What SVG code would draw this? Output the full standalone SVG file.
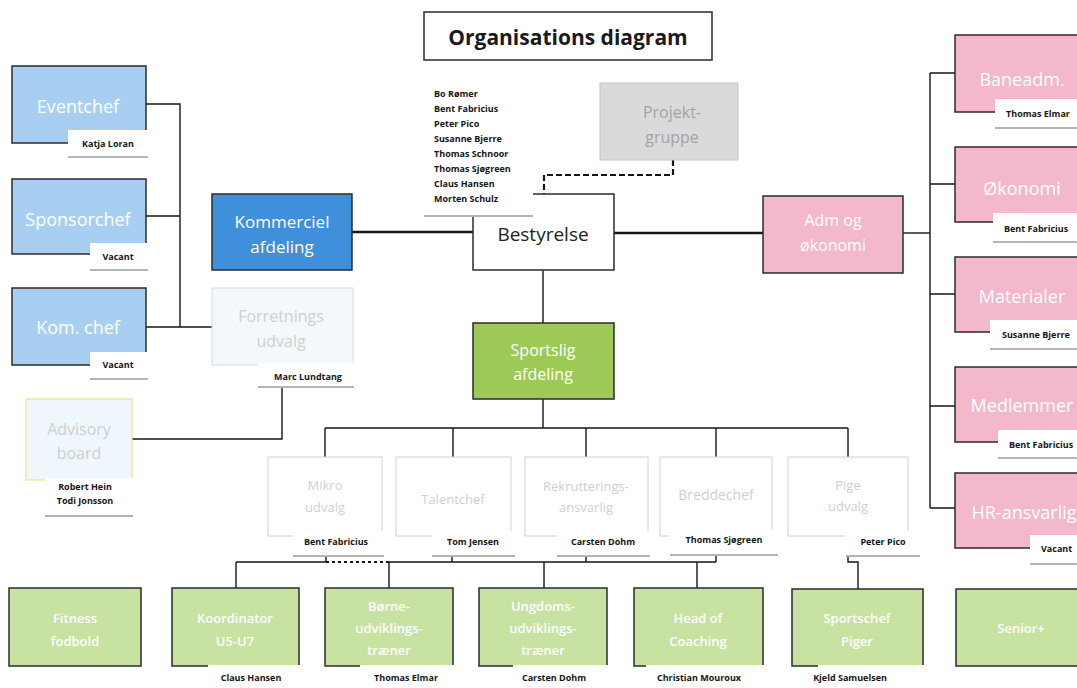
<svg xmlns="http://www.w3.org/2000/svg" width="1077" height="688" viewBox="0 0 1077 688">
<style>
.bx{stroke:#2b2b2b;stroke-width:1.5}
.blue{fill:#a8cff2}
.kom{fill:#3f8fdb}
.pink{fill:#f3b8cc}
.green{fill:#9dca57}
.lgreen{fill:#c8e2a2}
.ghost{fill:#ffffff;stroke:#d2d2d2;stroke-width:1}
.wt{font-family:"Open Sans","Liberation Sans",sans-serif;fill:#ffffff;text-anchor:middle}
.gt{font-family:"Open Sans","Liberation Sans",sans-serif;fill:#cfcfcf;text-anchor:middle}
.lb{fill:#ffffff}
.sh{stroke:#b4b4b4;stroke-width:2}
.lt{font-family:"Open Sans","Liberation Sans",sans-serif;font-size:9px;font-weight:700;fill:#151515;text-anchor:middle}
.ls{font-family:"Open Sans","Liberation Sans",sans-serif;font-size:9px;font-weight:700;fill:#151515}
.ln{stroke:#161616;stroke-width:1.4;fill:none}
.thick{stroke:#161616;stroke-width:2.4;fill:none}
.dash{stroke:#161616;stroke-width:2.2;fill:none;stroke-dasharray:6 3}
.dot{stroke:#161616;stroke-width:1.8;fill:none;stroke-dasharray:3 3}
</style>
<rect width="1077" height="688" fill="#ffffff"/>

<g id="connectors">
  <path class="ln" d="M146 104H180V327M146 216H180M146 327H212"/>
  <path class="ln" d="M282 387V439H132"/>
  <path class="thick" d="M352 232H473M614 233H763"/>
  <path class="ln" d="M903 233H930"/>
  <path class="ln" d="M930 73V508M930 73H955M930 184H955M930 294H955M930 406H955M930 508H955"/>
  <path class="dash" d="M673 160V175H544V194"/>
  <path class="ln" d="M543 270V323M543 399V428M325 428H848M325 428V457M453 428V457M586 428V457M716 428V457M848 428V457"/>
  <path class="ln" d="M326 556V562M452 556V562M586 556V562M716 556V562M236 562H326M389 562H716M236 562V588M389 562V588M544 562V588M697 562V588"/>
  <path class="dot" d="M326 562H389"/>
  <path class="ln" d="M848 556V562H858V589"/>
</g>

<g id="title">
  <rect x="424" y="12" width="288" height="48" fill="#fff" stroke="#2b2b2b" stroke-width="1.5"/>
  <text x="568" y="45" font-family="'Open Sans','Liberation Sans',sans-serif" font-size="21" font-weight="700" fill="#1a1a1a" text-anchor="middle">Organisations diagram</text>
</g>

<g id="eventchef">
  <rect class="bx blue" x="12" y="66" width="134" height="77"/>
  <text class="wt" x="78" y="113" font-size="18">Eventchef</text>
  <rect class="lb" x="68" y="130" width="80" height="26"/>
  <line class="sh" x1="68" y1="157" x2="148" y2="157"/>
  <text class="lt" x="108" y="147">Katja Loran</text>
</g>
<g id="sponsorchef">
  <rect class="bx blue" x="12" y="179" width="134" height="75"/>
  <text class="wt" x="78" y="226" font-size="18">Sponsorchef</text>
  <rect class="lb" x="90" y="243" width="58" height="26"/>
  <line class="sh" x1="90" y1="270" x2="148" y2="270"/>
  <text class="lt" x="118" y="260">Vacant</text>
</g>
<g id="komchef">
  <rect class="bx blue" x="12" y="288" width="134" height="77"/>
  <text class="wt" x="78" y="334" font-size="18">Kom. chef</text>
  <rect class="lb" x="90" y="352" width="58" height="26"/>
  <line class="sh" x1="90" y1="379" x2="148" y2="379"/>
  <text class="lt" x="118" y="368">Vacant</text>
</g>

<g id="kommerciel">
  <rect class="bx kom" x="212" y="194" width="140" height="76"/>
  <text class="wt" x="282" y="228" font-size="17">Kommerciel</text>
  <text class="wt" x="282" y="253" font-size="17">afdeling</text>
</g>
<g id="forretnings">
  <rect x="212" y="288" width="141" height="77" fill="#f3f8fb" stroke="#d8dde0" stroke-width="1"/>
  <text class="gt" x="281" y="322" font-size="16">Forretnings</text>
  <text class="gt" x="281" y="347" font-size="16">udvalg</text>
  <rect class="lb" x="258" y="363" width="96" height="23"/>
  <line class="sh" x1="258" y1="387" x2="354" y2="387"/>
  <text class="lt" x="308" y="380">Marc Lundtang</text>
</g>
<g id="advisory">
  <rect x="26" y="399" width="106" height="81" fill="#eef7fc" stroke="#ece38c" stroke-width="1.2"/>
  <text class="gt" x="79" y="435" font-size="16">Advisory</text>
  <text class="gt" x="79" y="459" font-size="16">board</text>
  <rect class="lb" x="45" y="478" width="88" height="37"/>
  <line class="sh" x1="45" y1="516" x2="133" y2="516"/>
  <text class="lt" x="85" y="490">Robert Hein</text>
  <text class="lt" x="85" y="504">Todi Jonsson</text>
</g>

<g id="bestyrelse">
  <rect class="bx" x="473" y="194" width="141" height="76" fill="#ffffff"/>
  <text x="543" y="241" font-family="'Open Sans','Liberation Sans',sans-serif" font-size="19" fill="#222" text-anchor="middle">Bestyrelse</text>
</g>
<g id="board-members">
  <rect x="423" y="80" width="110" height="135" fill="#ffffff"/>
  <line class="sh" x1="424" y1="216" x2="533" y2="216"/>
  <text class="ls" x="434" y="97">Bo Rømer</text>
  <text class="ls" x="434" y="112">Bent Fabricius</text>
  <text class="ls" x="434" y="127">Peter Pico</text>
  <text class="ls" x="434" y="142">Susanne Bjerre</text>
  <text class="ls" x="434" y="157">Thomas Schnoor</text>
  <text class="ls" x="434" y="172">Thomas Sjøgreen</text>
  <text class="ls" x="434" y="187">Claus Hansen</text>
  <text class="ls" x="434" y="202">Morten Schulz</text>
</g>
<g id="projektgruppe">
  <rect x="600" y="83" width="138" height="77" fill="#dadada" stroke="#c4c4c4" stroke-width="1"/>
  <text x="672" y="118" font-family="'Open Sans','Liberation Sans',sans-serif" font-size="16" fill="#a3a3a3" text-anchor="middle">Projekt-</text>
  <text x="672" y="143" font-family="'Open Sans','Liberation Sans',sans-serif" font-size="16" fill="#a3a3a3" text-anchor="middle">gruppe</text>
</g>

<g id="admokonomi">
  <rect class="bx pink" x="763" y="196" width="140" height="77"/>
  <text class="wt" x="833" y="226" font-size="16">Adm og</text>
  <text class="wt" x="833" y="251" font-size="16">økonomi</text>
</g>

<g id="baneadm">
  <rect class="bx pink" x="955" y="35" width="135" height="77"/>
  <text class="wt" x="1022" y="86" font-size="18">Baneadm.</text>
  <rect class="lb" x="995" y="99" width="90" height="28"/>
  <line class="sh" x1="995" y1="128" x2="1077" y2="128"/>
  <text class="ls" x="1006" y="117">Thomas Elmar</text>
</g>
<g id="okonomi">
  <rect class="bx pink" x="955" y="147" width="135" height="75"/>
  <text class="wt" x="1022" y="195" font-size="18">Økonomi</text>
  <rect class="lb" x="993" y="213" width="90" height="28"/>
  <line class="sh" x1="993" y1="242" x2="1077" y2="242"/>
  <text class="ls" x="1004" y="232">Bent Fabricius</text>
</g>
<g id="materialer">
  <rect class="bx pink" x="955" y="257" width="135" height="75"/>
  <text class="wt" x="1022" y="303" font-size="18">Materialer</text>
  <rect class="lb" x="990" y="320" width="90" height="28"/>
  <line class="sh" x1="990" y1="349" x2="1077" y2="349"/>
  <text class="ls" x="1002" y="338">Susanne Bjerre</text>
</g>
<g id="medlemmer">
  <rect class="bx pink" x="955" y="367" width="135" height="75"/>
  <text class="wt" x="1022" y="412" font-size="18">Medlemmer</text>
  <rect class="lb" x="998" y="430" width="90" height="27"/>
  <line class="sh" x1="998" y1="458" x2="1077" y2="458"/>
  <text class="ls" x="1009" y="448">Bent Fabricius</text>
</g>
<g id="hransvarlig">
  <rect class="bx pink" x="955" y="473" width="135" height="75"/>
  <text class="wt" x="1024" y="519" font-size="18">HR-ansvarlig</text>
  <rect class="lb" x="1030" y="535" width="60" height="28"/>
  <line class="sh" x1="1030" y1="564" x2="1077" y2="564"/>
  <text class="ls" x="1041" y="552">Vacant</text>
</g>

<g id="sportslig">
  <rect class="bx green" x="473" y="323" width="141" height="76"/>
  <text class="wt" x="543" y="356" font-size="16">Sportslig</text>
  <text class="wt" x="543" y="380" font-size="16">afdeling</text>
</g>

<g id="mikro">
  <rect class="ghost" x="268" y="457" width="114" height="79"/>
  <text class="gt" x="325" y="490" font-size="13">Mikro</text>
  <text class="gt" x="325" y="512" font-size="13">udvalg</text>
  <rect class="lb" x="293" y="531" width="91" height="24"/>
  <line class="sh" x1="293" y1="556" x2="384" y2="556"/>
  <text class="lt" x="336" y="545">Bent Fabricius</text>
</g>
<g id="talentchef">
  <rect class="ghost" x="396" y="457" width="115" height="79"/>
  <text class="gt" x="453" y="504" font-size="13">Talentchef</text>
  <rect class="lb" x="432" y="531" width="83" height="24"/>
  <line class="sh" x1="432" y1="556" x2="515" y2="556"/>
  <text class="lt" x="473" y="545">Tom Jensen</text>
</g>
<g id="rekrutterings">
  <rect class="ghost" x="525" y="457" width="123" height="79"/>
  <text class="gt" x="586" y="491" font-size="13">Rekrutterings-</text>
  <text class="gt" x="586" y="512" font-size="13">ansvarlig</text>
  <rect class="lb" x="557" y="531" width="93" height="24"/>
  <line class="sh" x1="557" y1="556" x2="650" y2="556"/>
  <text class="lt" x="603" y="545">Carsten Dohm</text>
</g>
<g id="breddechef">
  <rect class="ghost" x="660" y="457" width="112" height="79"/>
  <text class="gt" x="716" y="500" font-size="14">Breddechef</text>
  <rect class="lb" x="670" y="530" width="108" height="24"/>
  <line class="sh" x1="670" y1="555" x2="778" y2="555"/>
  <text class="lt" x="724" y="543">Thomas Sjøgreen</text>
</g>
<g id="pige">
  <rect class="ghost" x="788" y="457" width="120" height="79"/>
  <text class="gt" x="848" y="490" font-size="13">Pige</text>
  <text class="gt" x="848" y="511" font-size="13">udvalg</text>
  <rect class="lb" x="846" y="531" width="74" height="24"/>
  <line class="sh" x1="846" y1="556" x2="920" y2="556"/>
  <text class="lt" x="883" y="545">Peter Pico</text>
</g>

<g id="fitness">
  <rect class="bx lgreen" x="9" y="588" width="132" height="78"/>
  <text class="wt" x="75" y="623" font-size="13" font-weight="600">Fitness</text>
  <text class="wt" x="75" y="646" font-size="13" font-weight="600">fodbold</text>
</g>
<g id="koordinator">
  <rect class="bx lgreen" x="172" y="588" width="127" height="78"/>
  <text class="wt" x="235" y="623" font-size="13" font-weight="600">Koordinator</text>
  <text class="wt" x="235" y="646" font-size="13" font-weight="600">U5-U7</text>
  <rect class="lb" x="208" y="665" width="92" height="23"/>
  <text class="lt" x="251" y="681">Claus Hansen</text>
</g>
<g id="borne">
  <rect class="bx lgreen" x="325" y="588" width="128" height="78"/>
  <text class="wt" x="389" y="611" font-size="13" font-weight="600">Børne-</text>
  <text class="wt" x="389" y="633" font-size="13" font-weight="600">udviklings-</text>
  <text class="wt" x="389" y="655" font-size="13" font-weight="600">træner</text>
  <rect class="lb" x="360" y="665" width="96" height="23"/>
  <text class="lt" x="406" y="681">Thomas Elmar</text>
</g>
<g id="ungdoms">
  <rect class="bx lgreen" x="479" y="588" width="128" height="78"/>
  <text class="wt" x="543" y="611" font-size="13" font-weight="600">Ungdoms-</text>
  <text class="wt" x="543" y="633" font-size="13" font-weight="600">udviklings-</text>
  <text class="wt" x="543" y="655" font-size="13" font-weight="600">træner</text>
  <rect class="lb" x="513" y="665" width="97" height="23"/>
  <text class="lt" x="554" y="681">Carsten Dohm</text>
</g>
<g id="headofcoaching">
  <rect class="bx lgreen" x="634" y="588" width="129" height="78"/>
  <text class="wt" x="698" y="623" font-size="13" font-weight="600">Head of</text>
  <text class="wt" x="698" y="646" font-size="13" font-weight="600">Coaching</text>
  <rect class="lb" x="646" y="665" width="120" height="23"/>
  <text class="lt" x="699" y="681">Christian Mouroux</text>
</g>
<g id="sportschef">
  <rect class="bx lgreen" x="792" y="589" width="131" height="77"/>
  <text class="wt" x="857" y="623" font-size="13" font-weight="600">Sportschef</text>
  <text class="wt" x="857" y="646" font-size="13" font-weight="600">Piger</text>
  <rect class="lb" x="818" y="665" width="107" height="23"/>
  <text class="lt" x="850" y="681">Kjeld Samuelsen</text>
</g>
<g id="senior">
  <rect class="bx lgreen" x="956" y="589" width="130" height="77"/>
  <text class="wt" x="1021" y="633" font-size="13" font-weight="600">Senior+</text>
</g>
</svg>
